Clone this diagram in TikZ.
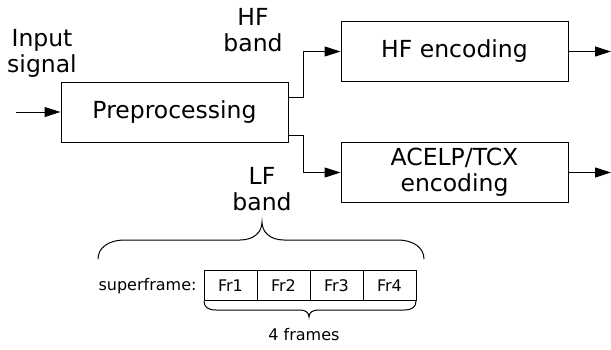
\documentclass[tikz,border=0pt]{standalone}
\usepackage{fontspec}
\setmainfont{DejaVu Sans}
\usetikzlibrary{arrows.meta}
\begin{document}
\begin{tikzpicture}[x=0.5pt,y=-0.5pt,
  line width=0.5pt,
  big/.style={font=\fontsize{11.75}{13}\selectfont},
  small/.style={font=\fontsize{8}{9.6}\selectfont},
  block/.style={draw, minimum width=113.5pt, minimum height=30pt, inner sep=0pt, big, align=center},
  frbox/.style={draw, minimum width=26.5pt, minimum height=14.65pt, inner sep=0pt, small},
  arr/.style={-{Triangle[length=8pt,width=5pt]}},
  lbl/.style={big, align=center, inner sep=0pt}]
\useasboundingbox (0,0) rectangle (611,349);
% blocks
\node[block] (pre) at (174.5,112) {Preprocessing};
\node[block] (hf) at (454.5,51.5) {HF encoding};
\node[block] (ac) at (454.5,172.5) {ACELP/TCX\\encoding};
% free ends
\coordinate (in) at (16,112);
\coordinate (hfout) at (611,51.5);
\coordinate (acout) at (611,172.5);
% connectors
\draw[arr] (in) -- (pre.west);
\draw[arr] ([yshift=7.5pt]pre.east) -- ++(7.5pt,0) |- (hf.west);
\draw[arr] ([yshift=-11.5pt]pre.east) -- ++(7.5pt,0) |- (ac.west);
\draw[arr] (hf.east) -- (hfout);
\draw[arr] (ac.east) -- (acout);
% labels
\node[lbl] (inlbl) at (42,53) {Input\\signal};
\node[lbl] (hflbl) at (253,30) {HF\\band};
\node[lbl] (lflbl) at (262,189) {LF\\band};
% superframe
\node[frbox] (f1) at (230.5,285.35) {Fr1};
\node[frbox] (f2) at (283.5,285.35) {Fr2};
\node[frbox] (f3) at (336.5,285.35) {Fr3};
\node[frbox] (f4) at (389.5,285.35) {Fr4};
\node[small, anchor=base east, inner sep=0pt] (sf) at (197,290) {superframe:};
% braces
\draw (98,259) .. controls (98,248) and (108,240) .. (125,240) -- (240,240)
  .. controls (254,240) and (262,232) .. (262,222)
  .. controls (262,232) and (270,240) .. (284,240) -- (397,240)
  .. controls (414,240) and (424,248) .. (424,259);
\draw (204,301) .. controls (204,307) and (208,310) .. (216,310) -- (300,310)
  .. controls (306,310) and (309,313) .. (309,317)
  .. controls (309,313) and (312,310) .. (318,310) -- (404,310)
  .. controls (412,310) and (416,307) .. (416,301);
\node[small, anchor=base, inner sep=0pt] (nf) at (304,340) {4 frames};
\end{tikzpicture}
\end{document}
